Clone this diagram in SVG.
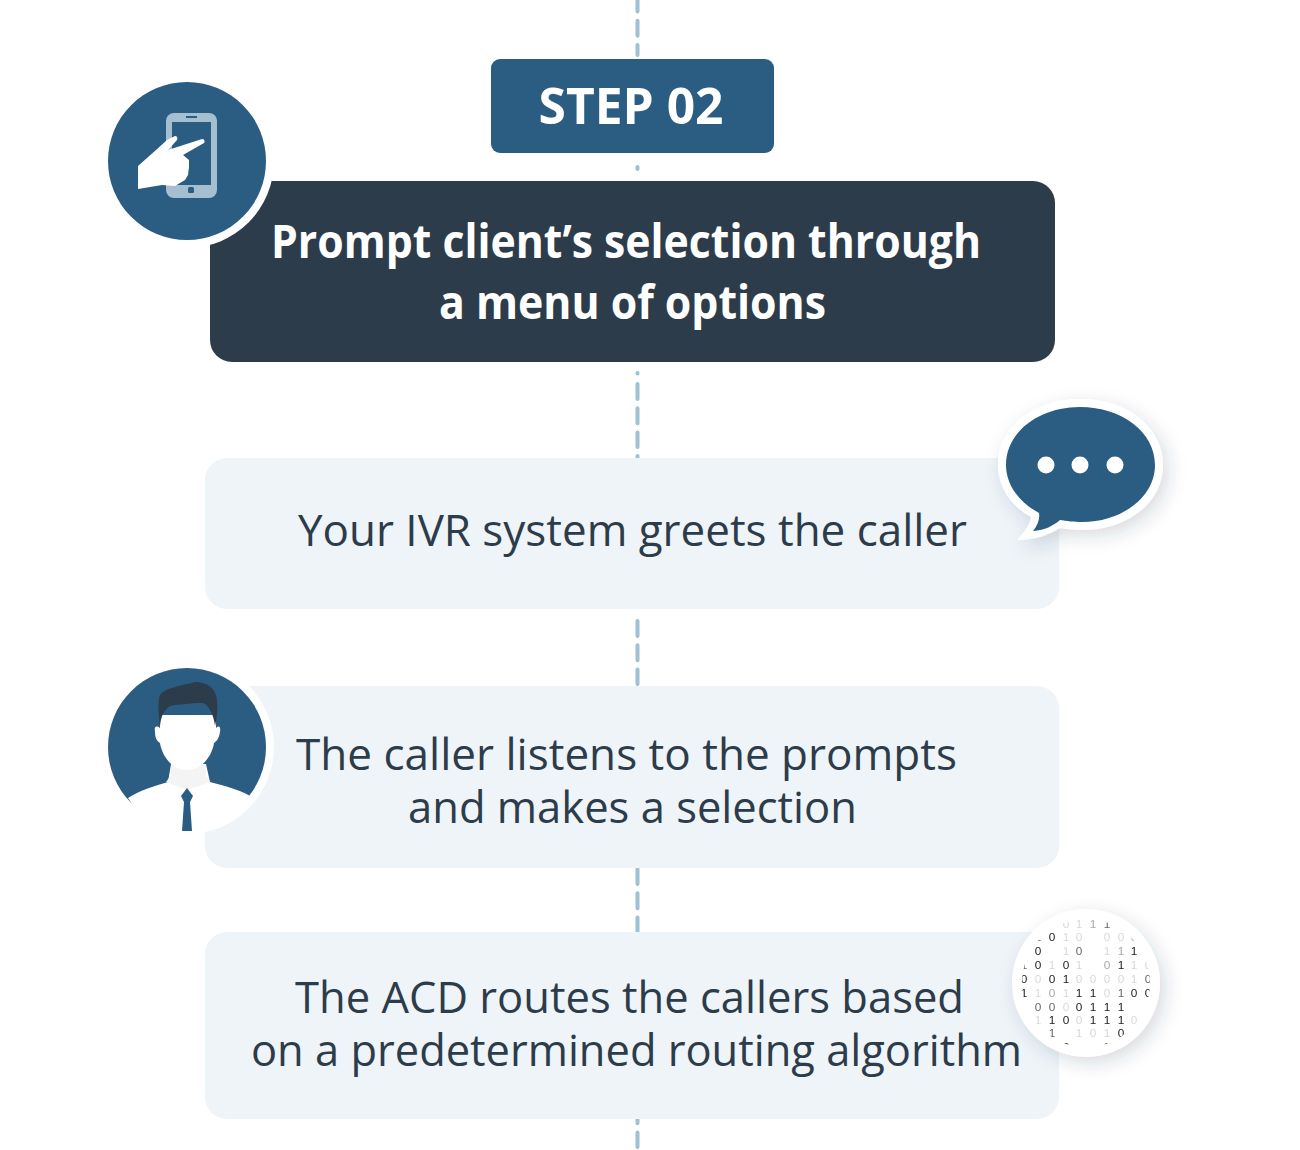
<svg xmlns="http://www.w3.org/2000/svg" width="1300" height="1150" viewBox="0 0 1300 1150">
<style>
text{font-family:"Open Sans","Noto Sans",sans-serif;text-anchor:middle}
.head{font-size:47px;font-weight:700;fill:#fff}
.step{font-size:50px;font-weight:700;fill:#fff}
.body{font-size:44px;fill:#2d3c4a}
.dash{stroke:#a0c0d4;stroke-width:4;stroke-dasharray:15 9.300;stroke-linecap:round;fill:none}
.card{fill:#eff4f9}
.blue{fill:#2b5c82}
.bits text{font-family:"Liberation Sans",Arial,sans-serif;font-size:11.800px}
.k{fill:#1a1a1a}.m{fill:#666}.l{fill:#a8a8a8}.f{fill:#d8d8d8}
</style>
<defs>
<filter id="soft" x="-30%" y="-30%" width="170%" height="170%"><feDropShadow dx="5" dy="6" stdDeviation="9" flood-color="#1d3a52" flood-opacity=".18"/></filter>
<clipPath id="disc"><circle cx="1086" cy="983" r="64"/></clipPath>
</defs>
<g id="connectors">
<path class="dash" d="M637.500 -3.500V55"/>
<path class="dash" d="M637.500 167V169"/>
<path class="dash" d="M637.500 373V373.500M637.500 384V447M637.500 456V460"/>
<path class="dash" d="M637.500 621V684"/>
<path class="dash" d="M637.500 869V932"/>
<path class="dash" d="M637.500 1084V1147"/>
</g>
<g id="step-label">
<rect class="blue" x="491" y="59" width="283" height="94" rx="9"/>
<text class="step" x="631" y="124" textLength="185" lengthAdjust="spacingAndGlyphs">STEP 02</text>
</g>
<g id="prompt-title">
<rect x="210" y="181" width="845" height="181" rx="22" fill="#2d3c4a"/>
<text class="head" x="626" y="258" textLength="710" lengthAdjust="spacingAndGlyphs">Prompt client’s selection through</text>
<text class="head" x="632.500" y="319" textLength="387" lengthAdjust="spacingAndGlyphs">a menu of options</text>
</g>
<g id="phone-badge">
<circle cx="187" cy="161" r="87" fill="#fff"/>
<circle class="blue" cx="187" cy="161" r="79"/>
<rect x="166" y="113" width="51" height="85" rx="8" fill="#a5bfd0"/>
<rect x="172" y="122" width="39" height="63" fill="#2b5c82"/>
<rect x="186" y="116" width="11" height="2" fill="#2b5c82"/>
<rect x="188" y="187" width="6" height="6" rx="1.500" fill="#2b5c82"/>
<path fill="#fff" d="M138 166L156 150 167 140 175 136C177 136 178 138 177 140L168 150 202 139C205 139 205 142 204 143L183 155 189 160 189 167 188 175 185 180 175 186 162 185 138 189Z"/>
</g>
<g id="greeting-card">
<rect class="card" x="205" y="458" width="854" height="151" rx="22"/>
<text class="body" x="632.500" y="546" textLength="669" lengthAdjust="spacingAndGlyphs">Your IVR system greets the caller</text>
</g>
<g id="speech-badge">
<path filter="url(#soft)" fill="#fff" d="M1080 399C1127 399 1163 427 1163 465 1163 503 1127 530 1082 530 1075 530 1066 529 1060 528 1049 535 1035 540 1017 540 1026 531 1030 524 1031 517 1011 506 998 487 998 465 998 427 1034 399 1080 399Z"/>
<path class="blue" d="M1080 407C1122 407 1155 432 1155 465 1155 497 1122 522 1082 522 1075 522 1066 521 1060 520 1053 526 1045 530 1033 531 1038 525 1040 518 1039 513 1019 502 1006 485 1006 465 1006 432 1039 407 1080 407Z"/>
<circle cx="1046" cy="465" r="8.500" fill="#fff"/>
<circle cx="1080" cy="465" r="8.500" fill="#fff"/>
<circle cx="1115" cy="465" r="8.500" fill="#fff"/>
</g>
<g id="selection-card">
<rect class="card" x="205" y="686" width="854" height="182" rx="22"/>
<text class="body" x="626.500" y="770" textLength="661" lengthAdjust="spacingAndGlyphs">The caller listens to the prompts</text>
<text class="body" x="632.500" y="823" textLength="449" lengthAdjust="spacingAndGlyphs">and makes a selection</text>
</g>
<g id="caller-badge">
<circle cx="187" cy="747" r="87" fill="#fff"/>
<circle class="blue" cx="187" cy="747" r="79"/>
<path fill="#fff" d="M128 798C140 790 155 786 168 782L171 764H206L210 782C225 786 240 790 250 796 235 820 212 834 187 834 160 834 142 820 128 798Z"/>
<path fill="#f4f4f4" d="M171 764H206V775L210 782 187 790 166 782 171 775Z"/>
<path fill="#fff" d="M160 715H216V728C219 725 221 727 220 732 219 738 217 741 214 743 212 756 202 770 187 770 172 770 162 756 160 743 157 741 155 738 155 732 154 727 156 725 160 728Z"/>
<path fill="#2d3c4a" d="M160 726C158 712 158 699 160 695 165 688 180 686 195 682 207 682 216 688 217 700 218 708 217 718 215 726 214 716 209 705 203 703 190 703 175 705 170 706 164 710 161 716 160 726Z"/>
<path class="blue" d="M187 788L193 796 190 802 192 831H182L184 802 181 796Z"/>
</g>
<g id="routing-card">
<rect class="card" x="205" y="932" width="854" height="187" rx="22"/>
<text class="body" x="629.500" y="1013" textLength="669" lengthAdjust="spacingAndGlyphs">The ACD routes the callers based</text>
<text class="body" x="636.500" y="1066" textLength="771" lengthAdjust="spacingAndGlyphs">on a predetermined routing algorithm</text>
</g>
<g id="binary-badge">
<circle cx="1086" cy="983" r="74" fill="#fff" filter="url(#soft)"/>
<g clip-path="url(#disc)" opacity=".99">
<g class="bits">
<text class="f" x="1066" y="927.500">0</text><text class="f" x="1079" y="927.500">1</text><text class="l" x="1093" y="927.500">1</text><text class="m" x="1107" y="927.500">1</text><text class="l" x="1121" y="927.500">1</text>
<text class="m" x="1038" y="940.500">1</text><text class="k" x="1052" y="940.500">0</text><text class="f" x="1066" y="940.500">1</text><text class="f" x="1079" y="940.500">0</text><text class="f" x="1107" y="940.500">0</text><text class="f" x="1121" y="940.500">0</text><text class="l" x="1134" y="940.500">0</text>
<text class="k" x="1038" y="955">0</text><text class="f" x="1066" y="955">1</text><text class="m" x="1079" y="955">0</text><text class="f" x="1107" y="955">1</text><text class="l" x="1121" y="955">1</text><text class="k" x="1134" y="955">1</text>
<text class="m" x="1024" y="969">1</text><text class="k" x="1038" y="969">0</text><text class="f" x="1052" y="969">1</text><text class="k" x="1066" y="969">0</text><text class="f" x="1079" y="969">1</text><text class="l" x="1107" y="969">0</text><text class="k" x="1121" y="969">1</text><text class="f" x="1134" y="969">1</text><text class="f" x="1148" y="969">0</text>
<text class="k" x="1024" y="983">0</text><text class="f" x="1038" y="983">0</text><text class="k" x="1052" y="983">0</text><text class="k" x="1066" y="983">1</text><text class="f" x="1079" y="983">0</text><text class="f" x="1093" y="983">0</text><text class="f" x="1107" y="983">0</text><text class="f" x="1121" y="983">0</text><text class="f" x="1134" y="983">1</text><text class="m" x="1148" y="983">0</text>
<text class="k" x="1024" y="996.500">1</text><text class="f" x="1038" y="996.500">1</text><text class="l" x="1052" y="996.500">0</text><text class="f" x="1066" y="996.500">1</text><text class="k" x="1079" y="996.500">1</text><text class="k" x="1093" y="996.500">1</text><text class="f" x="1107" y="996.500">0</text><text class="m" x="1121" y="996.500">1</text><text class="k" x="1134" y="996.500">0</text><text class="k" x="1148" y="996.500">0</text>
<text class="k" x="1024" y="1010.500">1</text><text class="m" x="1038" y="1010.500">0</text><text class="m" x="1052" y="1010.500">0</text><text class="f" x="1066" y="1010.500">0</text><text class="k" x="1079" y="1010.500">0</text><text class="k" x="1093" y="1010.500">1</text><text class="k" x="1107" y="1010.500">1</text><text class="k" x="1121" y="1010.500">1</text>
<text class="f" x="1038" y="1023.500">1</text><text class="k" x="1052" y="1023.500">1</text><text class="k" x="1066" y="1023.500">0</text><text class="f" x="1079" y="1023.500">0</text><text class="k" x="1093" y="1023.500">1</text><text class="k" x="1107" y="1023.500">1</text><text class="k" x="1121" y="1023.500">1</text><text class="f" x="1134" y="1023.500">0</text>
<text class="m" x="1052" y="1037">1</text><text class="f" x="1079" y="1037">1</text><text class="f" x="1093" y="1037">0</text><text class="f" x="1107" y="1037">1</text><text class="k" x="1121" y="1037">0</text>
<text class="k" x="1066" y="1050.500">0</text><text class="k" x="1107" y="1050.500">0</text>
</g>
</g>
</g>
</svg>
